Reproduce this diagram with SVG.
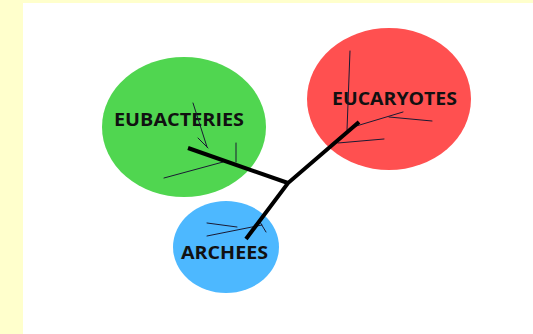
<svg xmlns="http://www.w3.org/2000/svg" width="533" height="334" viewBox="0 0 533 334">
<style>
.lbl{font-family:"Open Sans","Liberation Sans",sans-serif;font-weight:700;font-size:18.5px;fill:#111;text-anchor:middle}
.thin{stroke:#1a1a33;stroke-width:1;fill:none;stroke-linecap:round}
.thick{stroke:#000;stroke-width:4;fill:none;stroke-linecap:butt;stroke-linejoin:miter}
</style>
<rect x="0" y="0" width="533" height="334" fill="#ffffcc"/>
<rect x="23" y="3" width="510" height="331" fill="#ffffff"/>
<g id="eubacteries">
<ellipse cx="184" cy="127" rx="82" ry="70" fill="#50d650"/>
<text class="lbl" x="179" y="126" textLength="130" lengthAdjust="spacingAndGlyphs">EUBACTERIES</text>
</g>
<g id="eucaryotes">
<ellipse cx="389" cy="99" rx="82" ry="71" fill="#ff5050"/>
<text class="lbl" x="394.5" y="105" textLength="125" lengthAdjust="spacingAndGlyphs">EUCARYOTES</text>
</g>
<g id="archees">
<ellipse cx="226" cy="247" rx="53" ry="46" fill="#4db8ff"/>
<text class="lbl" x="224.5" y="259" textLength="87" lengthAdjust="spacingAndGlyphs">ARCHEES</text>
</g>
<g id="connectors">
<path class="thin" d="M193,103 L207,147 M198,138 L208,148 M236,143 L236,162 M164,178 L223,162"/>
<path class="thin" d="M350,51 L347,130 M353,127 L403,112 M389,117 L432,121 M338,143 L384,139"/>
<path class="thin" d="M207,223 L237,227 M207,236 L262,225 M260,222 L266,232"/>
<path class="thick" d="M188,148 L288,183"/>
<path class="thick" d="M359,122 L288,183 L246,239"/>
</g>
</svg>
